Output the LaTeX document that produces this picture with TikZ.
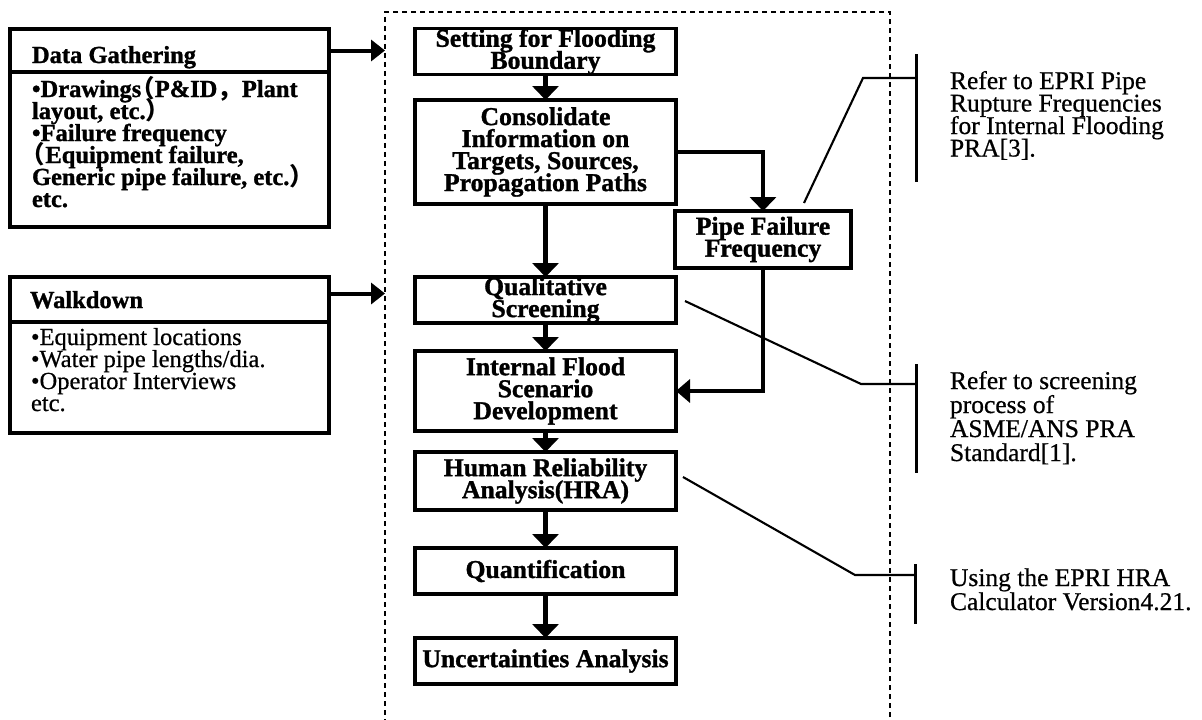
\documentclass[tikz,border=0pt]{standalone}
\usepackage{fontspec}
\setmainfont{Liberation Serif}[FakeBold=0.6, BoldFeatures={FakeBold=1.2}]
\newfontfamily\cjk{Noto Sans CJK JP}
\usetikzlibrary{arrows.meta,calc}
\newcommand\fwopen{{\cjk\kern-0.45em （}}
\newcommand\fwclose{{\cjk ）}}
\newcommand\fwcomma{{\cjk ，}}
\newcommand\tightlines{\lineskiplimit=-100pt\relax\lineskip=0pt\relax}
\newcommand\firstline{\rule{0pt}{22pt}}
\begin{document}
\begin{tikzpicture}[x=1pt,y=-1pt,
  every node/.style={inner sep=0pt, outer sep=0pt},
  box/.style={draw, line width=3.3pt, minimum width=261pt, align=center,
    font=\bfseries\fontsize{25.7}{22}\selectfont\tightlines},
  lbox/.style={draw, line width=3.3pt, minimum width=319pt},
  ltext/.style={align=left, font=\fontsize{24.5}{22}\selectfont\tightlines},
  ltextb/.style={align=left, font=\bfseries\fontsize{24.5}{22}\selectfont\tightlines},
  ntext/.style={align=left, anchor=north west, font=\fontsize{25.5}{22.5}\selectfont\tightlines},
  ntextw/.style={align=left, anchor=north west, font=\fontsize{25.5}{24}\selectfont\tightlines},
  frame/.style={draw, line width=1.4pt, dash pattern=on 5pt off 4pt},
  flow/.style={line width=4.5pt, -{Triangle[width=26pt,length=14pt]}},
  sideflow/.style={line width=4.5pt, -{Triangle[width=23pt,length=14pt]}},
  inflow/.style={line width=4pt, -{Triangle[width=21pt,length=14pt]}},
  note/.style={line width=2.1pt},
  notebar/.style={line width=3pt}
]
\useasboundingbox (0,0) rectangle (1202,720);

% dashed frame (bottom edge lies below the picture)
\node[frame, minimum width=505pt, minimum height=740pt, anchor=north west] (frame) at (385,12) {};

% left input boxes
\node[lbox, minimum height=43pt, anchor=north west] (dgh) at (10,29) {};
\node[lbox, minimum height=155pt, anchor=north west] (dgb) at (10,72) {};
\node[ltextb, anchor=base west] (dght) at (32,63) {Data Gathering};
\node[ltextb, anchor=north west] (dgbt) at (32,75)
  {\firstline •Drawings\fwopen P\&ID\fwcomma Plant\\
   layout, etc.\fwclose\\
   •Failure frequency\\
   \fwopen Equipment failure,\\
   Generic pipe failure, etc.\fwclose\\
   etc.};

\node[lbox, minimum height=45pt, anchor=north west] (wdh) at (10,277) {};
\node[lbox, minimum height=111pt, anchor=north west] (wdb) at (10,322) {};
\node[ltextb, anchor=base west] (wdht) at (30,308) {Walkdown};
\node[ltext, anchor=north west] (wdbt) at (31,323)
  {\firstline •Equipment locations\\
   •Water pipe lengths/dia.\\
   •Operator Interviews\\
   etc.};

\draw[inflow] (dgh.east) -- (dgh.east -| frame.west);
\draw[inflow] ($(wdh.east)+(0,-6)$) -- ($(wdh.east -| frame.west)+(0,-6)$);

% main flow
\node[box, minimum height=45pt] (b1) at (545.5,51.5) {Setting for Flooding\\Boundary};
\node[box, minimum height=104pt] (b2) at (545.5,152) {Consolidate\\Information on\\Targets, Sources,\\Propagation Paths};
\node[box, minimum height=46pt] (b3) at (545.5,300) {Qualitative\\Screening};
\node[box, minimum height=80pt] (b4) at (545.5,391) {Internal Flood\\Scenario\\Development};
\node[box, minimum height=58pt] (b5) at (545.5,481) {Human Reliability\\Analysis(HRA)};
\node[box, minimum height=46pt] (b6) at (545.5,571) {Quantification};
\node[box, minimum height=46pt] (b7) at (545.5,661) {Uncertainties Analysis};
\node[box, minimum width=176pt, minimum height=57pt] (pipe) at (763,239.5) {Pipe Failure\\Frequency};

\draw[flow] (b1) -- (b2);
\draw[flow] (b2) -- (b3);
\draw[flow] (b3) -- (b4);
\draw[flow] (b4) -- (b5);
\draw[flow] (b5) -- (b6);
\draw[flow] (b6) -- (b7);
\draw[flow] (b2.east) -| (pipe.north);
\draw[sideflow] (pipe.south) |- (b4.east);

% annotations
\coordinate (a1s) at (804,203);
\coordinate (a1k) at (863,78);
\coordinate (bar1t) at (916,54);
\coordinate (bar1b) at (916,182);
\draw[note] (a1s) -- (a1k) -- (a1k -| bar1t);
\draw[notebar] (bar1t) -- (bar1b);
\node[ntext] (n1) at (950,67) {\firstline Refer to EPRI Pipe\\Rupture Frequencies\\for Internal Flooding\\PRA[3].};

\coordinate (a2s) at (685,301);
\coordinate (a2k) at (861,384);
\coordinate (bar2t) at (916,364);
\coordinate (bar2b) at (916,473);
\draw[note] (a2s) -- (a2k) -- (a2k -| bar2t);
\draw[notebar] (bar2t) -- (bar2b);
\node[ntextw] (n2) at (950,367) {\firstline Refer to screening\\process of\\ASME/ANS PRA\\Standard[1].};

\coordinate (a3s) at (683,477);
\coordinate (a3k) at (855,575);
\coordinate (bar3t) at (915,564);
\coordinate (bar3b) at (915,624);
\draw[note] (a3s) -- (a3k) -- (a3k -| bar3t);
\draw[notebar] (bar3t) -- (bar3b);
\node[ntextw] (n3) at (950,564) {\firstline Using the EPRI HRA\\Calculator Version4.21.};
\end{tikzpicture}
\end{document}
